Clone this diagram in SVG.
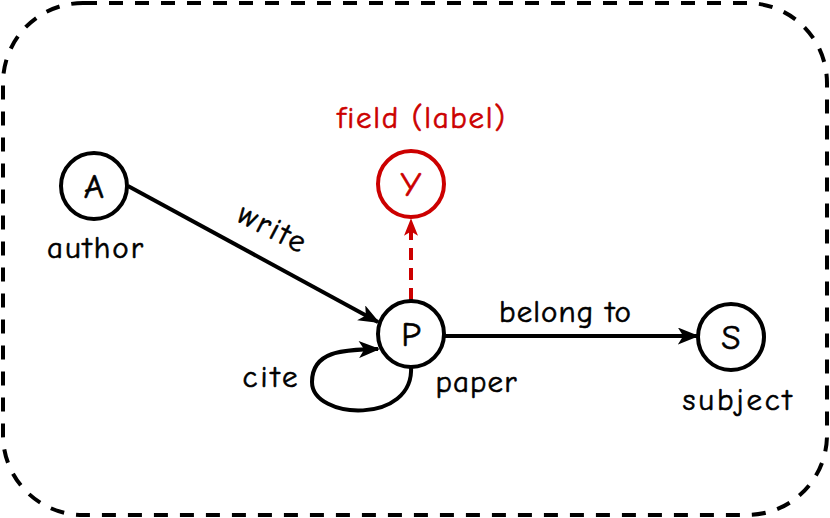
<svg xmlns="http://www.w3.org/2000/svg" width="830" height="518" viewBox="0 0 830 518">
<style>
text{font-family:"Comic Sans MS","Comic Neue","Open Sans","DejaVu Sans",sans-serif;font-size:31px;fill:#000;stroke:#000;stroke-width:0.6;}
.red{fill:#CC0000;stroke:#CC0000;}
.lt{font-size:35px;}
.node{fill:#fff;stroke:#000;stroke-width:4;}
.rnode{fill:#fff;stroke:#CC0000;stroke-width:4;}
.edge{fill:none;stroke:#000;stroke-width:4;}
</style>
<defs>
<marker id="ab" viewBox="0 0 20 16" refX="18" refY="8" markerWidth="22" markerHeight="17" markerUnits="userSpaceOnUse" orient="auto">
<path d="M0,0 L20,8 L0,16 L5,8 Z" fill="#000"/>
</marker>
<marker id="ar" viewBox="0 0 20 16" refX="18" refY="8" markerWidth="18" markerHeight="14" markerUnits="userSpaceOnUse" orient="auto">
<path d="M0,0 L20,8 L0,16 L5,8 Z" fill="#CC0000"/>
</marker>
</defs>
<rect x="3" y="3" width="824" height="512" rx="80" ry="80" fill="none" stroke="#000" stroke-width="4" stroke-dasharray="14 12"/>
<g id="connectors">
<line class="edge" x1="128" y1="186" x2="378" y2="322" marker-end="url(#ab)"/>
<line class="edge" x1="445" y1="336" x2="697" y2="336" marker-end="url(#ab)"/>
<path class="edge" d="M411,366 C415,425 312,420 312,382 C312,350 345,350 378,349" marker-end="url(#ab)"/>
<line x1="411" y1="300" x2="411" y2="220" fill="none" stroke="#CC0000" stroke-width="4" stroke-dasharray="12 8" marker-end="url(#ar)"/>
<text x="272" y="238" text-anchor="middle" transform="rotate(27 272 228)" textLength="72">write</text>
<text x="565" y="322" text-anchor="middle" textLength="132">belong to</text>
<text x="270" y="387" text-anchor="middle" textLength="55">cite</text>
</g>
<g id="node-A">
<circle class="node" cx="94" cy="186" r="33"/>
<text class="lt" x="94" y="198" text-anchor="middle">A</text>
<text x="95" y="258" text-anchor="middle" textLength="96">author</text>
</g>
<g id="node-Y">
<circle class="rnode" cx="411" cy="184" r="33"/>
<text class="red lt" x="411" y="196" text-anchor="middle">Y</text>
<text class="red" x="421" y="128" text-anchor="middle" textLength="168">field (label)</text>
</g>
<g id="node-P">
<circle class="node" cx="411" cy="334" r="33"/>
<text class="lt" x="411" y="346" text-anchor="middle">P</text>
<text x="476" y="392" text-anchor="middle" textLength="81">paper</text>
</g>
<g id="node-S">
<circle class="node" cx="731" cy="337" r="33"/>
<text class="lt" x="731" y="349" text-anchor="middle">S</text>
<text x="737" y="410" text-anchor="middle" textLength="109">subject</text>
</g>
</svg>
